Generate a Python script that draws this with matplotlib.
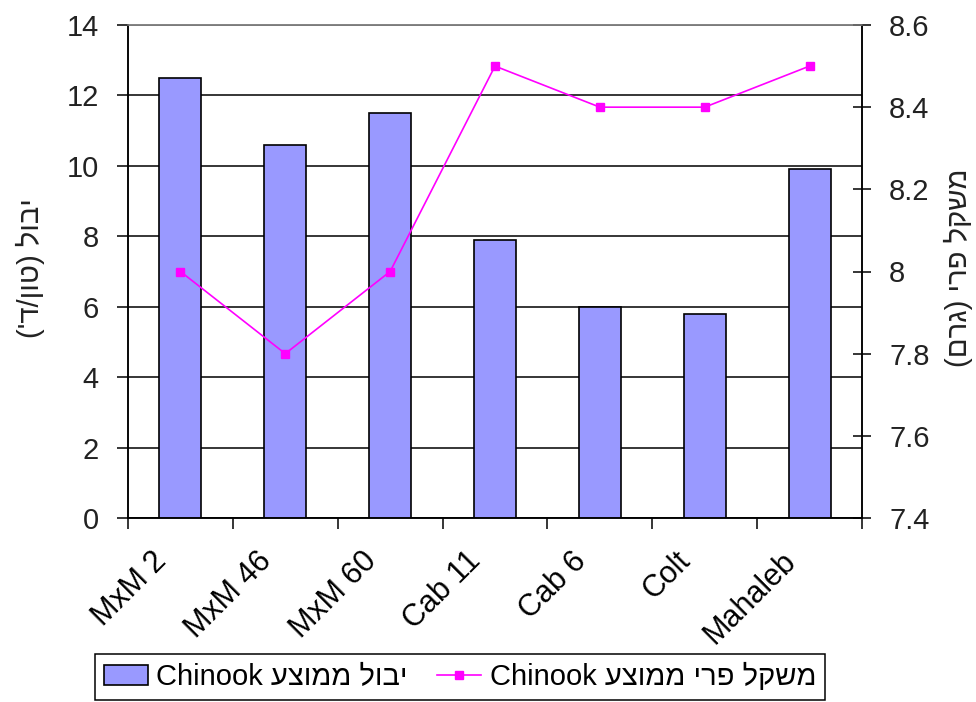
import matplotlib
matplotlib.use('Agg')
import matplotlib.pyplot as plt
import matplotlib.transforms as mtransforms
import numpy as np

categories = ['MxM 2', 'MxM 46', 'MxM 60', 'Cab 11', 'Cab 6', 'Colt', 'Mahaleb']
yield_vals = [12.5, 10.6, 11.5, 7.9, 6.0, 5.8, 9.9]
weight_vals = [8.0, 7.8, 8.0, 8.5, 8.4, 8.4, 8.5]
left_ticks = [0, 2, 4, 6, 8, 10, 12, 14]
right_ticks = [7.4, 7.6, 7.8, 8.0, 8.2, 8.4, 8.6]
right_tick_labels = ['7.4', '7.6', '7.8', '8', '8.2', '8.4', '8.6']
# Hebrew strings given in visual (display) order
left_label = "('ד/ןוט) לובי"
right_label = "(םרג) ירפ לקשמ"
bar_legend = 'Chinook עצוממ לובי'
line_legend = 'Chinook עצוממ ירפ לקשמ'

plt.rcParams['font.family'] = ['Liberation Sans', 'DejaVu Sans']

fig = plt.figure(figsize=(9.76, 7.02), dpi=100)
ax = fig.add_axes([128/976, 1-518/702, (862-128)/976, (518-25)/702])
x = np.arange(len(categories))
bars = ax.bar(x, yield_vals, width=0.4, color='#9999FF', edgecolor='black',
              linewidth=1.2, zorder=3, label=bar_legend)
ax.set_xlim(-0.5, len(categories)-0.5)
ax.set_ylim(0, 14)
ax.set_yticks(left_ticks)
ax.yaxis.grid(True, color='black', linewidth=1.1, zorder=0)
ax.set_axisbelow(True)
ax.set_xticks(np.arange(len(categories)+1)-0.5)
ax.set_xticklabels([])
ax.tick_params(axis='x', direction='out', length=8, width=1.1, color='black')
ax.tick_params(axis='y', direction='out', length=8, width=1.1, labelsize=21, pad=13,
               labelcolor='#222222')
for s in ['left', 'bottom', 'right']:
    ax.spines[s].set_color('black')
    ax.spines[s].set_linewidth(1.1)
ax.spines['top'].set_color('#808080')
ax.spines['top'].set_linewidth(1.1)

ax2 = ax.twinx()
line, = ax2.plot(x, weight_vals, color='#FF00FF', lw=1.2, marker='s',
                 markersize=6, label=line_legend, zorder=4)
ax2.set_ylim(7.4, 8.6)
ax2.set_yticks(right_ticks)
ax2.set_yticklabels(right_tick_labels)
ax2.tick_params(axis='y', direction='inout', length=13, width=1.1, labelsize=21, pad=13,
                labelcolor='#222222')
for s in ['left', 'bottom', 'right']:
    ax2.spines[s].set_color('black')
    ax2.spines[s].set_linewidth(1.1)
ax2.spines['top'].set_color('#808080')
ax2.spines['top'].set_linewidth(1.1)

offset = mtransforms.ScaledTranslation(-0.29, -0.28, fig.dpi_scale_trans)
trans = ax.get_xaxis_transform() + offset
for xi, lab in zip(x, categories):
    ax.text(xi, 0, lab, rotation=45, rotation_mode='anchor', ha='right', va='top',
            transform=trans, fontsize=22)

fig.text(30/976, 1-268/702, left_label, rotation=90, ha='center', va='center',
         fontsize=21, color='#222222')
fig.text(958/976, 1-268/702, right_label, rotation=90, ha='center', va='center',
         fontsize=21, color='#222222')

leg = fig.legend(handles=[bars, line], labels=[bar_legend, line_legend],
                 loc='center', bbox_to_anchor=(460/976, 1-677/702), ncol=2,
                 frameon=True, fancybox=False, edgecolor='black', framealpha=1,
                 fontsize=21, handlelength=1.5, handletextpad=0.3,
                 columnspacing=1.0, borderpad=0.3)
leg.get_frame().set_linewidth(1.1)

fig.savefig('out.png', dpi=100)
